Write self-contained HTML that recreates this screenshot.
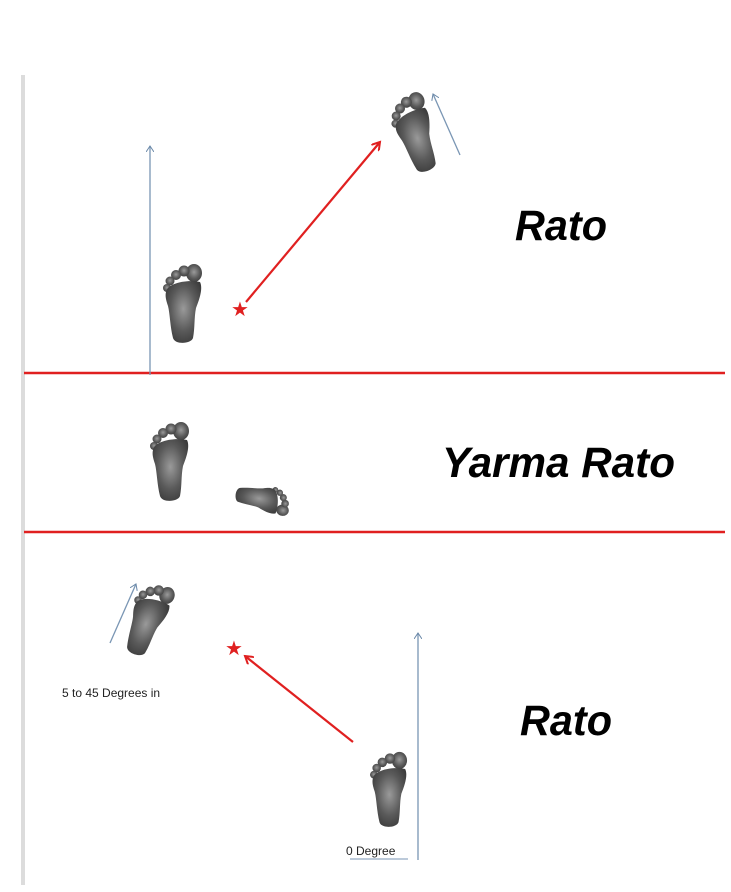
<!DOCTYPE html>
<html><head><meta charset="utf-8"><style>
html,body{margin:0;padding:0;background:#fff;}
svg{display:block;}
</style></head><body>
<svg width="731" height="892" viewBox="0 0 731 892" xmlns="http://www.w3.org/2000/svg">
<defs>
<radialGradient id="g" cx="0.5" cy="0.45" r="0.6">
<stop offset="0" stop-color="#9a9a9a"/><stop offset="0.6" stop-color="#5a5a5a"/><stop offset="1" stop-color="#3c3c3c"/>
</radialGradient>
<g id="foot">
<ellipse cx="31" cy="11" rx="8" ry="9" fill="url(#g)"/>
<circle cx="21" cy="9" r="5.5" fill="url(#g)"/>
<circle cx="13" cy="13" r="5" fill="url(#g)"/>
<circle cx="7" cy="19" r="4.5" fill="url(#g)"/>
<circle cx="4" cy="26" r="4" fill="url(#g)"/>
<path d="M3,30 C4,22 22,17 37,20 C40,26 37,36 33,46 C31,56 32,66 30,76 C28,82 12,83 10,76 C7,64 7,52 5,44 C3,38 2,34 3,30 Z" fill="url(#g)"/>
</g>
<marker id="ar" markerWidth="10" markerHeight="10" refX="8" refY="5" orient="auto" markerUnits="userSpaceOnUse">
<path d="M0,0 L8,5 L0,10" fill="none" stroke="#e02020" stroke-width="2"/>
</marker>
<marker id="ab" markerWidth="8" markerHeight="8" refX="6" refY="4" orient="auto" markerUnits="userSpaceOnUse">
<path d="M0,0 L6,4 L0,8" fill="none" stroke="#6a88a8" stroke-width="1"/>
</marker>
</defs>
<rect x="21" y="75" width="4" height="810" fill="#dcdcdc"/>
<line x1="24" y1="373" x2="725" y2="373" stroke="#e02020" stroke-width="2.5"/>
<line x1="24" y1="532" x2="725" y2="532" stroke="#e02020" stroke-width="2.5"/>

<!-- top -->
<line x1="150" y1="375" x2="150" y2="146" stroke="#7a96b4" stroke-width="1.3" marker-end="url(#ab)"/>
<use href="#foot" x="163" y="262"/>
<use href="#foot" transform="translate(395,92) rotate(-18 20 40)"/>
<line x1="460" y1="155" x2="433" y2="94" stroke="#7a96b4" stroke-width="1.3" marker-end="url(#ab)"/>
<line x1="246" y1="302" x2="380" y2="142" stroke="#e02020" stroke-width="2.2" marker-end="url(#ar)"/>
<text x="240" y="316" font-size="20" fill="#e02020" text-anchor="middle" font-family="DejaVu Sans,sans-serif">★</text>
<text x="515" y="240" font-family="Liberation Sans,sans-serif" font-weight="bold" font-style="italic" font-size="43" textLength="92" lengthAdjust="spacingAndGlyphs">Rato</text>

<!-- middle -->
<use href="#foot" x="150" y="420"/>
<use href="#foot" transform="translate(231,463) rotate(100 20 40) scale(0.7)"/>
<text x="442" y="477" font-family="Liberation Sans,sans-serif" font-weight="bold" font-style="italic" font-size="43" textLength="233" lengthAdjust="spacingAndGlyphs">Yarma Rato</text>

<!-- bottom -->
<use href="#foot" transform="translate(128,580) rotate(20 20 40) scale(0.95)"/>
<line x1="110" y1="643" x2="136" y2="584" stroke="#7a96b4" stroke-width="1.3" marker-end="url(#ab)"/>
<text x="62" y="697" font-family="Liberation Sans,sans-serif" font-size="12" fill="#222">5 to 45 Degrees in</text>
<line x1="353" y1="742" x2="245" y2="656" stroke="#e02020" stroke-width="2.2" marker-end="url(#ar)"/>
<text x="234" y="655" font-size="20" fill="#e02020" text-anchor="middle" font-family="DejaVu Sans,sans-serif">★</text>
<use href="#foot" transform="translate(370,750) scale(0.95)"/>
<line x1="418" y1="860" x2="418" y2="633" stroke="#7a96b4" stroke-width="1.3" marker-end="url(#ab)"/>
<text x="346" y="855" font-family="Liberation Sans,sans-serif" font-size="12" fill="#222">0 Degree</text>
<line x1="350" y1="859" x2="408" y2="859" stroke="#7a96b4" stroke-width="1"/>
<text x="520" y="735" font-family="Liberation Sans,sans-serif" font-weight="bold" font-style="italic" font-size="43" textLength="92" lengthAdjust="spacingAndGlyphs">Rato</text>
</svg>
</body></html>
